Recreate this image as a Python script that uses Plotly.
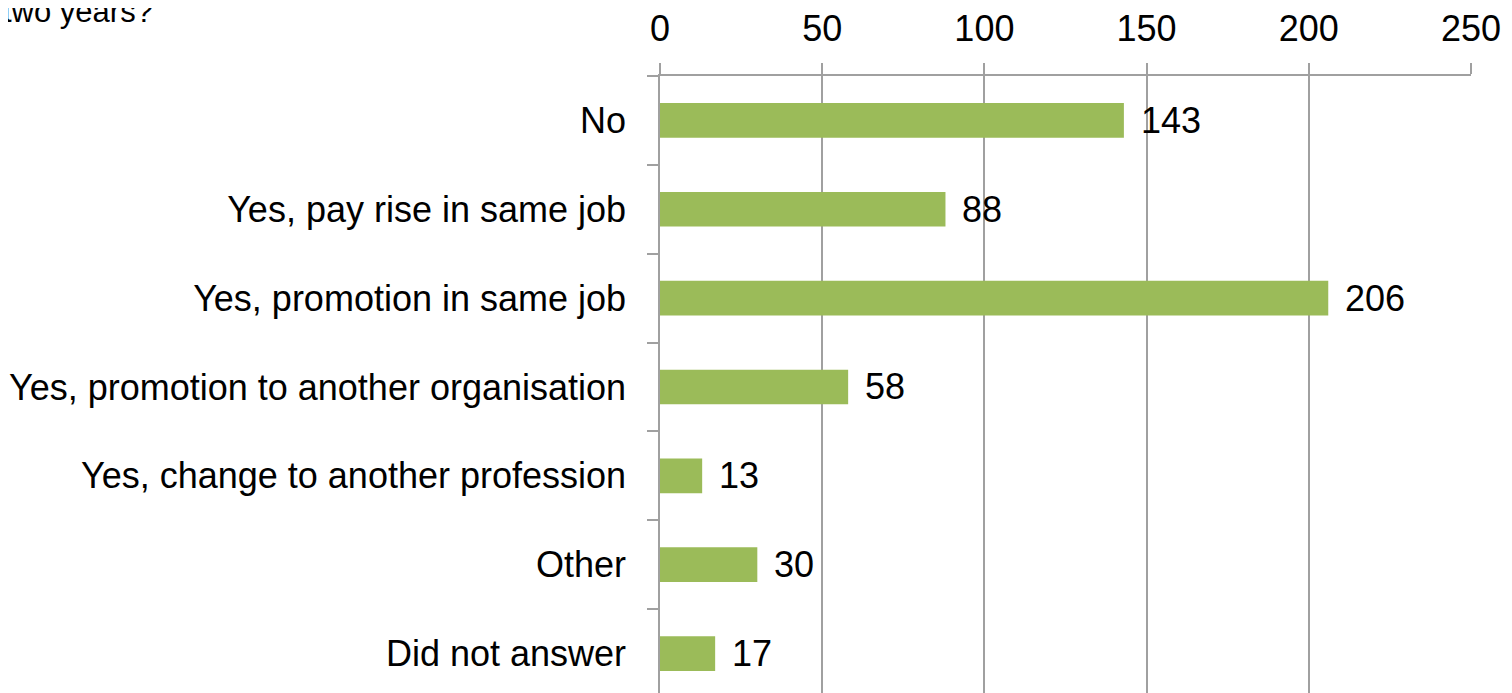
import plotly.graph_objects as go

categories = ["No", "Yes, pay rise in same job", "Yes, promotion in same job",
              "Yes, promotion to another organisation", "Yes, change to another profession",
              "Other", "Did not answer"]
values = [143, 88, 206, 58, 13, 30, 17]
x_ticks = [0, 50, 100, 150, 200, 250]
title_text = "two years?"

FONT = "Liberation Sans"
GRAY = "#a0a0a0"
GREEN = "#9bbb59"
FS = 36

fig = go.Figure()
fig.add_trace(go.Bar(
    x=values, y=categories, orientation="h",
    marker=dict(color=GREEN, line=dict(width=0)),
    width=0.39, hoverinfo="skip",
))

for v, c in zip(values, categories):
    fig.add_annotation(x=v, y=c, xref="x", yref="y", text=str(v), showarrow=False,
                       xanchor="left", yanchor="middle", xshift=15,
                       font=dict(family=FONT, size=FS, color="black"))

fig.add_annotation(x=0, y=1, xref="paper", yref="paper", text=title_text, showarrow=False,
                   xanchor="left", yanchor="middle", xshift=-659, yshift=65,
                   font=dict(family=FONT, size=31, color="black"))

fig.update_layout(
    width=1512, height=693,
    margin=dict(l=652, r=49, t=63, b=0, pad=0),
    paper_bgcolor="white", plot_bgcolor="white",
    showlegend=False,
    font=dict(family=FONT, size=FS, color="black"),
    xaxis=dict(side="top", range=[0, 250], tickvals=x_ticks, showgrid=True,
               gridcolor=GRAY, gridwidth=1.5, showline=True, linecolor=GRAY, linewidth=1.5,
               ticks="outside", ticklen=11, tickcolor=GRAY, tickwidth=1.5,
               zeroline=False, ticklabelstandoff=8,
               tickfont=dict(family=FONT, size=FS, color="black")),
    yaxis=dict(type="category", categoryorder="array", categoryarray=categories,
               range=[6.534, -0.5], showgrid=False, showline=True, linecolor=GRAY,
               linewidth=1.5, ticks="outside", ticklen=11, tickcolor=GRAY, tickwidth=1.5,
               tickson="boundaries", ticklabelstandoff=25, zeroline=False,
               tickfont=dict(family=FONT, size=FS, color="black")),
)

fig.write_html("out.html")
